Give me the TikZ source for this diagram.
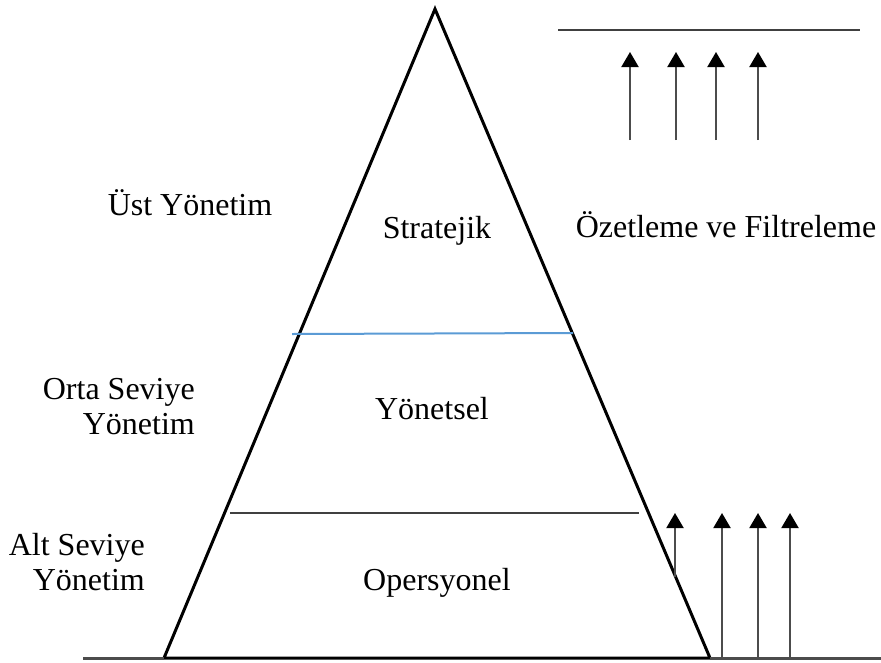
\documentclass[tikz,border=0pt]{standalone}
\usepackage{fontspec}
\setmainfont{Liberation Serif}
\usetikzlibrary{arrows.meta}
\begin{document}
\begin{tikzpicture}[x=1pt,y=-1pt,
    lbl/.style={font=\fontsize{32}{35}\selectfont,inner sep=0pt,anchor=base},
    side/.style={lbl,align=right,anchor=base east},
    edge/.style={line width=3pt,line join=miter},
    rule/.style={line width=2pt,draw=black!75},
    up/.style={line width=2pt,draw=black!70,-{Triangle[width=17pt,length=15pt,color=black]}}]
    \useasboundingbox (0,0) rectangle (881,662);
    % pyramid
    \coordinate (apex) at (435,9);
    \coordinate (bl) at (164,658);
    \coordinate (br) at (710,658);
    \draw[edge] (apex) -- (bl) -- (br) -- cycle;
    \coordinate (g0) at (83,658);
    \coordinate (g1) at (881,658);
    \draw[line width=3pt,draw=black!70] (g0) -- (bl);
    \draw[line width=3pt,draw=black!70] (br) -- (g1);
    \coordinate (m0) at (292,334);
    \coordinate (m1) at (573,333);
    \draw[line width=2pt,draw={rgb,255:red,91;green,155;blue,213}] (m0) -- (m1);
    \coordinate (l0) at (230,513);
    \coordinate (l1) at (639,513);
    \draw[rule] (l0) -- (l1);
    % levels
    \node[lbl] (strat) at (437,238) {Stratejik};
    \node[lbl] (yon) at (432,419) {Yönetsel};
    \node[lbl] (ops) at (437,590) {Opersyonel};
    \node[lbl] (ust) at (190,215) {Üst Yönetim};
    \node[side] (orta) at (195,434) {Orta Seviye\\Yönetim};
    \node[side] (alt) at (145,590) {Alt Seviye\\Yönetim};
    \node[lbl] (ozet) at (726,237) {Özetleme ve Filtreleme};
    % upward flow, top
    \coordinate (t0) at (558,30);
    \coordinate (t1) at (860,30);
    \draw[rule] (t0) -- (t1);
    \coordinate (a1) at (630,140);
    \coordinate (a2) at (676,140);
    \coordinate (a3) at (716,140);
    \coordinate (a4) at (758,140);
    \coordinate (b1) at (630,52);
    \coordinate (b2) at (676,52);
    \coordinate (b3) at (716,52);
    \coordinate (b4) at (758,52);
    \draw[up] (a1) -- (b1);
    \draw[up] (a2) -- (b2);
    \draw[up] (a3) -- (b3);
    \draw[up] (a4) -- (b4);
    % upward flow, bottom
    \coordinate (c1) at (675,577);
    \coordinate (c2) at (722,658);
    \coordinate (c3) at (758,658);
    \coordinate (c4) at (790,658);
    \coordinate (d1) at (675,513);
    \coordinate (d2) at (722,513);
    \coordinate (d3) at (758,513);
    \coordinate (d4) at (790,513);
    \draw[up] (c1) -- (d1);
    \draw[up] (c2) -- (d2);
    \draw[up] (c3) -- (d3);
    \draw[up] (c4) -- (d4);
\end{tikzpicture}
\end{document}
